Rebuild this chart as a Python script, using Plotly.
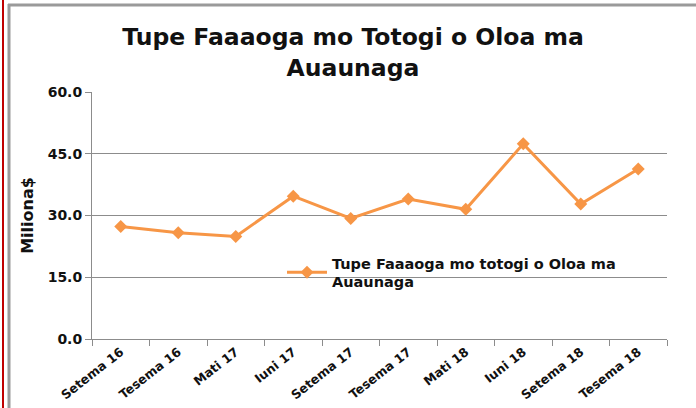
import plotly.graph_objects as go

categories = ["Setema 16", "Tesema 16", "Mati 17", "Iuni 17", "Setema 17",
              "Tesema 17", "Mati 18", "Iuni 18", "Setema 18", "Tesema 18"]
values = [27.3, 25.8, 24.9, 34.7, 29.3, 34.0, 31.5, 47.4, 32.8, 41.3]
series_name = "Tupe Faaaoga mo totogi o Oloa ma<br>Auaunaga"
title_text = "Tupe Faaaoga mo Totogi o Oloa ma<br>Auaunaga"
y_ticks = [0, 15, 30, 45, 60]
y_ticktext = ["0.0", "15.0", "30.0", "45.0", "60.0"]

W, H = 696, 408
L, R, T, B = 92, 29, 92, 69
pw, ph = W - L - R, H - T - B

def px(x):
    return (x - L) / pw

def py(y):
    return (H - B - y) / ph

FONT = "DejaVu Sans"
DARK = "#111111"
GRID = "#8c8c8c"
ORANGE = "#F79646"

fig = go.Figure()
fig.add_trace(go.Scatter(
    x=categories, y=values, mode="lines+markers", name=series_name,
    line=dict(color=ORANGE, width=3),
    marker=dict(symbol="diamond", size=10, color=ORANGE),
    showlegend=True,
))

fig.update_layout(
    width=W, height=H,
    margin=dict(l=L, r=R, t=T, b=B, autoexpand=False),
    paper_bgcolor="white", plot_bgcolor="rgba(0,0,0,0)",
    title=dict(text=title_text, x=353 / W, xref="container", xanchor="center",
               y=(H - 45) / H, yanchor="top",
               font=dict(family=FONT, size=23.5, color=DARK, weight="bold")),
    xaxis=dict(type="category", showgrid=False, showline=True, linecolor=GRID,
               linewidth=1, ticks="outside", tickson="boundaries", ticklen=6,
               tickcolor=GRID, tickangle=-38, range=[-0.5, 9.5],
               tickfont=dict(family=FONT, size=12.5, color=DARK, weight="bold")),
    yaxis=dict(range=[0, 60], tickvals=y_ticks, ticktext=y_ticktext,
               showgrid=True, gridcolor=GRID, gridwidth=1, zeroline=False,
               showline=True, linecolor=GRID, linewidth=1, ticks="outside",
               ticklen=6, tickcolor=GRID,
               tickfont=dict(family=FONT, size=14, color=DARK, weight="bold"),
               title=dict(text="Miliona$", standoff=10,
                          font=dict(family=FONT, size=16, color=DARK, weight="bold"))),
    legend=dict(x=px(282), y=py(247), xanchor="left", yanchor="top",
                bgcolor="rgba(0,0,0,0)",
                font=dict(family=FONT, size=14.5, color=DARK, weight="bold"),
                itemwidth=40),
    shapes=[
        dict(type="line", xref="paper", yref="paper", x0=px(3), x1=px(3),
             y0=py(0), y1=py(H), line=dict(color="#c00000", width=2)),
        dict(type="line", xref="paper", yref="paper", x0=px(9), x1=px(9),
             y0=py(4), y1=py(H), line=dict(color="#9a9a9a", width=3)),
        dict(type="line", xref="paper", yref="paper", x0=px(8), x1=px(W),
             y0=py(5), y1=py(5), line=dict(color="#9a9a9a", width=3)),
    ],
)

fig.write_html("out.html", config={"displayModeBar": False},
               post_script="document.body.style.margin='0';")
